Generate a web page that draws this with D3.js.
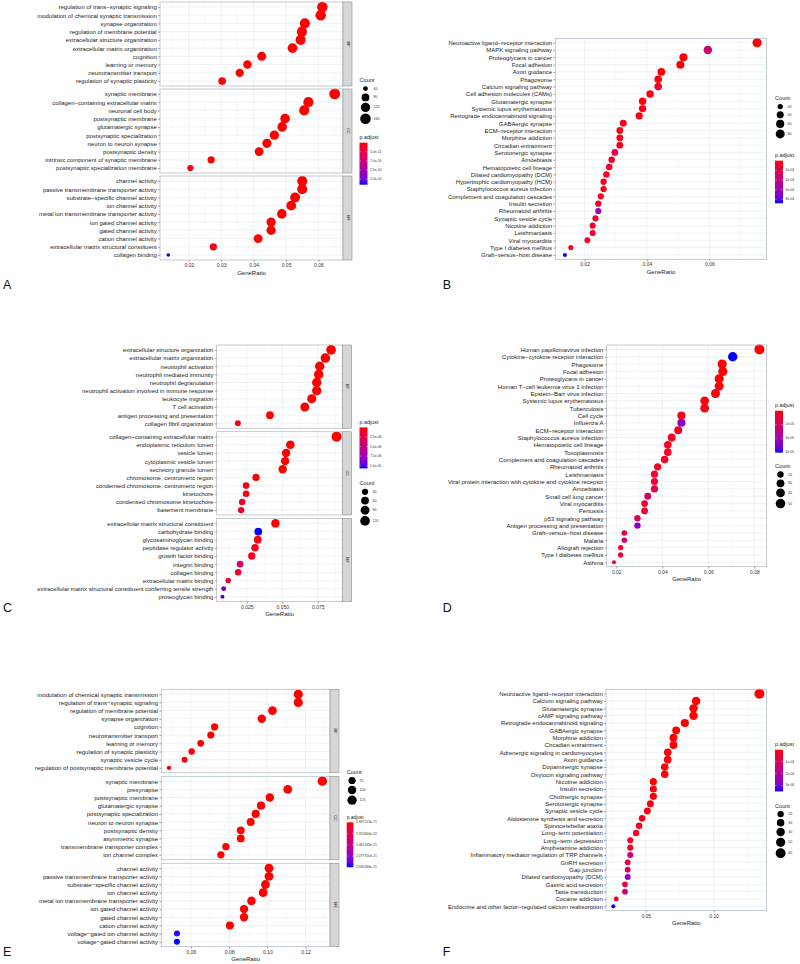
<!DOCTYPE html>
<html lang="en">
<head>
<meta charset="utf-8">
<title>Enrichment dot plots A-F</title>
<script src="https://cdn.jsdelivr.net/npm/d3@7"></script>
<style>
  body, html { margin: 0; background: #fff; }
  svg { display: block; }
</style>
</head>
<body>
<svg width="800" height="964"></svg>
<script>
// ---------- A : GO enrichment (BP / CC / MF) ----------
var aTerms = ["regulation of trans\u2212synaptic signaling","modulation of chemical synaptic transmission","synapse organization","regulation of membrane potential","extracellular structure organization","extracellular matrix organization","cognition","learning or memory","neurotransmitter transport","regulation of synaptic plasticity",
  "synaptic membrane","collagen\u2212containing extracellular matrix","neuronal cell body","postsynaptic membrane","glutamatergic synapse","postsynaptic specialization","neuron to neuron synapse","postsynaptic density","intrinsic component of synaptic membrane","postsynaptic specialization membrane",
  "channel activity","passive transmembrane transporter activity","substrate\u2212specific channel activity","ion channel activity","metal ion transmembrane transporter activity","ion gated channel activity","gated channel activity","cation channel activity","extracellular matrix structural constituent","collagen binding"];
var aFacets = ["BP","CC","MF"];
var aFacetSize = [10,10,10];
var aRatio = [0.0612,0.0607,0.0558,0.0549,0.0545,0.0520,0.0425,0.0381,0.0357,0.0303,
  0.0650,0.0569,0.0556,0.0497,0.0488,0.0464,0.0441,0.0417,0.0269,0.0205,
  0.0550,0.0550,0.0528,0.0516,0.0487,0.0454,0.0454,0.0414,0.0276,0.0137];
var aCount = [159,158,145,143,142,135,111,99,93,79, 169,148,145,129,127,121,115,108,70,53, 143,143,137,134,127,118,118,108,72,36];
var aPadj = [2.1e-28,3.4e-27,5.6e-24,1.2e-22,4.5e-22,8.7e-21,3.3e-16,6.1e-15,2.4e-14,7.9e-13,
  1.5e-32,2.2e-26,4.8e-25,6.3e-22,1.1e-21,9.5e-21,4.2e-19,2.7e-18,3.6e-13,5.9e-12,
  6.6e-25,6.6e-25,8.1e-24,2.9e-23,3.8e-21,4.4e-19,4.4e-19,6.2e-17,1.2e-11,2.3e-10];
var aTicks = [0.02,0.03,0.04,0.05,0.06];
var aCountBreaks = [40,80,120,160];
var aPadjBreaks = [5e-11,1e-10,1.5e-10,2e-10];

// ---------- B : KEGG ----------
var bTerms = ["Neuroactive ligand\u2212receptor interaction","MAPK signaling pathway","Proteoglycans in cancer","Focal adhesion","Axon guidance","Phagosome","Calcium signaling pathway","Cell adhesion molecules (CAMs)","Glutamatergic synapse","Systemic lupus erythematosus","Retrograde endocannabinoid signaling","GABAergic synapse","ECM\u2212receptor interaction","Morphine addiction","Circadian entrainment","Serotonergic synapse","Amoebiasis","Hematopoietic cell lineage","Dilated cardiomyopathy (DCM)","Hypertrophic cardiomyopathy (HCM)","Staphylococcus aureus infection","Complement and coagulation cascades","Insulin secretion","Rheumatoid arthritis","Synaptic vesicle cycle","Nicotine addiction","Leishmaniasis","Viral myocarditis","Type I diabetes mellitus","Graft\u2212versus\u2212host disease"];
var bRatio = [0.0753,0.0595,0.0517,0.0507,0.0446,0.0436,0.0436,0.0410,0.0386,0.0386,0.0375,0.0324,0.0313,0.0313,0.0313,0.0297,0.0287,0.0279,0.0270,0.0261,0.0261,0.0252,0.0244,0.0244,0.0235,0.0226,0.0226,0.0209,0.0156,0.0137];
var bCount = [85,67,58,57,50,49,49,46,44,44,42,37,35,35,35,34,32,31,30,29,29,28,28,28,27,26,26,24,18,15];
var bPadj = [2e-9,3.6e-4,1e-6,2e-6,5e-6,2e-5,9e-5,3e-5,1e-5,4e-5,3e-5,6e-5,5e-5,4e-5,5e-5,1.8e-4,8e-5,7e-5,6e-5,7e-5,6e-5,7e-5,8e-5,6.2e-4,1e-4,8e-5,9e-5,8e-5,5e-5,8.8e-4];
var bTicks = [0.02,0.04,0.06];
var bCountBreaks = [20,40,60,80];
var bPadjBreaks = [2e-4,4e-4,6e-4,8e-4];

// ---------- C : GO enrichment (BP / CC / MF) ----------
var cTerms = ["extracellular structure organization","extracellular matrix organization","neutrophil activation","neutrophil mediated immunity","neutrophil degranulation","neutrophil activation involved in immune response","leukocyte migration","T cell activation","antigen processing and presentation","collagen fibril organization",
  "collagen\u2212containing extracellular matrix","endoplasmic reticulum lumen","vesicle lumen","cytoplasmic vesicle lumen","secretory granule lumen","chromosome, centromeric region","condensed chromosome, centromeric region","kinetochore","condensed chromosome kinetochore","basement membrane",
  "extracellular matrix structural constituent","carbohydrate binding","glycosaminoglycan binding","peptidase regulator activity","growth factor binding","integrin binding","collagen binding","extracellular matrix binding","extracellular matrix structural constituent conferring tensile strength","proteoglycan binding"];
var cFacets = ["BP","CC","MF"];
var cFacetSize = [10,10,10];
var cRatio = [0.0844,0.0804,0.0764,0.0757,0.0743,0.0743,0.0708,0.0659,0.0413,0.0187,
  0.0883,0.0557,0.0527,0.0520,0.0503,0.0315,0.0245,0.0245,0.0217,0.0210,
  0.0452,0.0331,0.0327,0.0308,0.0285,0.0203,0.0189,0.0119,0.0087,0.0078];
var cCount = [122,117,111,110,108,108,103,96,60,27, 132,84,79,78,75,47,37,37,33,32, 81,60,59,55,51,37,34,21,16,14];
var cPadj = [1e-15,5e-15,2e-14,3e-14,4e-14,5e-14,1e-12,3e-11,2e-8,5e-7,
  1e-20,2e-10,1e-9,2e-9,5e-9,3e-8,4e-7,4e-7,8e-7,9e-7,
  1e-12,1.07e-5,4e-7,6e-7,8e-7,3.8e-6,1.2e-6,1.5e-6,9.6e-6,1.0e-5];
var cTicks = [0.025,0.050,0.075];
var cCountBreaks = [30,60,90,120];
var cPadjBreaks = [2.5e-6,5e-6,7.5e-6,1e-5];

// ---------- D : KEGG ----------
var dTerms = ["Human papillomavirus infection","Cytokine\u2212cytokine receptor interaction","Phagosome","Focal adhesion","Proteoglycans in cancer","Human T\u2212cell leukemia virus 1 infection","Epstein\u2212Barr virus infection","Systemic lupus erythematosus","Tuberculosis","Cell cycle","Influenza A","ECM\u2212receptor interaction","Staphylococcus aureus infection","Hematopoietic cell lineage","Toxoplasmosis","Complement and coagulation cascades","Rheumatoid arthritis","Leishmaniasis","Viral protein interaction with cytokine and cytokine receptor","Amoebiasis","Small cell lung cancer","Viral myocarditis","Pertussis","p53 signaling pathway","Antigen processing and presentation","Graft\u2212versus\u2212host disease","Malaria","Allograft rejection","Type I diabetes mellitus","Asthma"];
var dRatio = [0.0822,0.0706,0.0660,0.0663,0.0647,0.0647,0.0631,0.0584,0.0584,0.0483,0.0483,0.0469,0.0441,0.0424,0.0424,0.0410,0.0380,0.0366,0.0366,0.0366,0.0337,0.0323,0.0323,0.0292,0.0292,0.0235,0.0235,0.0219,0.0219,0.0190];
var dCount = [56,48,45,45,44,44,43,40,40,33,33,32,30,29,29,28,26,25,25,25,23,22,22,20,20,16,16,15,15,13];
var dPadj = [1e-8,6.1e-5,1e-7,2e-7,3e-7,1e-6,1e-6,1e-6,2e-6,3e-6,4.6e-5,4e-6,3e-6,4e-6,6e-6,5e-6,5e-6,7e-6,8e-6,1.4e-5,2.3e-5,8e-6,9e-6,1.8e-5,4.8e-5,1.1e-5,2.2e-5,9e-6,1e-5,8e-6];
var dTicks = [0.02,0.04,0.06,0.08];
var dCountBreaks = [20,30,40,50];
var dPadjBreaks = [2e-5,4e-5,6e-5];

// ---------- E : GO enrichment (BP / CC / MF) ----------
var eTerms = ["modulation of chemical synaptic transmission","regulation of trans\u2212synaptic signaling","regulation of membrane potential","synapse organization","cognition","neurotransmitter transport","learning or memory","regulation of synaptic plasticity","synaptic vesicle cycle","regulation of postsynaptic membrane potential",
  "synaptic membrane","presynapse","postsynaptic membrane","glutamatergic synapse","postsynaptic specialization","neuron to neuron synapse","postsynaptic density","asymmetric synapse","transmembrane transporter complex","ion channel complex",
  "channel activity","passive transmembrane transporter activity","substrate\u2212specific channel activity","ion channel activity","metal ion transmembrane transporter activity","ion gated channel activity","gated channel activity","cation channel activity","voltage\u2212gated ion channel activity","voltage\u2212gated channel activity"];
var eFacets = ["BP","CC","MF"];
var eFacetSize = [10,10,10];
var eRatio = [0.1162,0.1162,0.1027,0.0971,0.0724,0.0704,0.0651,0.0604,0.0567,0.0485,
  0.1288,0.1107,0.1013,0.0967,0.0939,0.0913,0.0861,0.0861,0.0783,0.0757,
  0.1009,0.1009,0.0990,0.0978,0.0917,0.0878,0.0878,0.0804,0.0527,0.0527];
var eCount = [120,120,106,100,75,73,67,62,58,50, 127,109,100,95,92,90,85,85,77,75, 112,112,110,108,102,97,97,89,58,58];
var ePadj = [3.2e-60,3.2e-60,1.4e-50,6.5e-46,2.2e-31,8.7e-30,4.1e-27,1.9e-24,6.0e-23,5.0e-24,
  1.687213e-71,2.3e-55,5.1e-52,7.7e-48,3.9e-46,1.2e-44,6.8e-41,6.8e-41,2.5e-35,4.0e-33,
  8.8e-52,8.8e-52,3.1e-50,1.6e-49,2.7e-45,9.9e-42,9.9e-42,1.3e-36,2.88e-21,2.930266e-21];
var eTicks = [0.06,0.08,0.10,0.12];
var eCountBreaks = [75,100,125];
var ePadjBreaks = [1.687213e-71,7.325666e-22,1.465133e-21,2.197700e-21,2.930266e-21];

// ---------- F : KEGG ----------
var fTerms = ["Neuroactive ligand\u2212receptor interaction","Calcium signaling pathway","Glutamatergic synapse","cAMP signaling pathway","Retrograde endocannabinoid signaling","GABAergic synapse","Morphine addiction","Circadian entrainment","Adrenergic signaling in cardiomyocytes","Axon guidance","Dopaminergic synapse","Oxytocin signaling pathway","Nicotine addiction","Insulin secretion","Cholinergic synapse","Serotonergic synapse","Synaptic vesicle cycle","Aldosterone synthesis and secretion","Spinocerebellar ataxia","Long\u2212term potentiation","Long\u2212term depression","Amphetamine addiction","Inflammatory mediator regulation of TRP channels","GnRH secretion","Gap junction","Dilated cardiomyopathy (DCM)","Gastric acid secretion","Taste transduction","Cocaine addiction","Endocrine and other factor\u2212regulated calcium reabsorption"];
var fRatio = [0.1337,0.0871,0.0852,0.0852,0.0788,0.0724,0.0704,0.0704,0.0662,0.0662,0.0640,0.0640,0.0556,0.0556,0.0556,0.0534,0.0512,0.0473,0.0451,0.0429,0.0386,0.0386,0.0386,0.0367,0.0367,0.0367,0.0347,0.0347,0.0283,0.0261];
var fCount = [63,41,40,40,37,34,33,33,31,31,30,30,26,26,26,25,24,22,21,20,18,18,18,17,17,17,16,16,13,12];
var fPadj = [1e-10,1e-7,1e-7,2e-7,1e-7,1e-6,1e-6,2e-6,5e-6,8e-6,5e-6,1e-5,1e-6,1e-5,1e-5,1.5e-5,1.2e-5,2e-5,2.5e-5,3e-5,3e-5,3e-5,1.5e-4,6e-5,9e-5,2.7e-4,7e-5,1.6e-4,4e-5,3.5e-4];
var fTicks = [0.05,0.10];
var fCountBreaks = [20,30,40,50,60];
var fPadjBreaks = [1e-4,2e-4,3e-4];

var FONT = "'Liberation Sans', Arial, Helvetica, sans-serif";
var svg = d3.select("svg");
var defs = svg.append("defs");

// R style scientific labels: 2e-04, 5.0e-11
function sci(d) {
  return function(v) { return v.toExponential(d).replace(/e([+-])(\d)$/, "e$10$2"); };
}

// font size that makes one label as wide as in the figure
function fitFont(label, width) {
  var t = svg.append("text").attr("font-size", 10).attr("font-family", FONT).text(label);
  var w = t.node().getComputedTextLength();
  t.remove();
  return 10 * width / w;
}

function drawPanel(p) {
  var g = svg.append("g");
  var fs = fitFont(p.terms[p.fit[0]], p.fit[1]);
  var lo = d3.min(p.ratio), hi = d3.max(p.ratio), pad = (hi - lo) * 0.05;
  var x = d3.scaleLinear().domain([lo - pad, hi + pad]).range([p.x0, p.x1]);
  var pext = d3.extent(p.padj);
  var color = d3.scaleLinear().domain(pext).range(["red", "blue"]).interpolate(d3.interpolateLab);
  var cnorm = d3.scaleLinear().domain(d3.extent(p.count)).range([0, 1]).clamp(true);
  var rad = function(c) { return p.r[0] + (p.r[1] - p.r[0]) * Math.sqrt(cnorm(c)); };

  var sizes = p.facetSize || [p.terms.length];
  var gap = p.gap || 0;
  var fh = (p.y1 - p.y0 - gap * (sizes.length - 1)) / sizes.length;
  var step = p.ticks[1] - p.ticks[0];
  var minor = [p.ticks[0] - step / 2].concat(p.ticks.map(function(t) { return t + step / 2; }))
    .filter(function(v) { return v > x.domain()[0] && v < x.domain()[1]; });

  var start = 0;
  sizes.forEach(function(sz, fi) {
    var top = p.y0 + fi * (fh + gap), bot = top + fh;
    var idx = d3.range(start, start + sz);
    start += sz;
    var y = d3.scalePoint().domain(idx).range([top, bot]).padding(0.6);
    var f = g.append("g");

    f.selectAll(".mi").data(minor).enter().append("line").attr("class", "mi")
      .attr("x1", x).attr("x2", x).attr("y1", top).attr("y2", bot)
      .attr("stroke", "#f1f3f5").attr("stroke-width", 0.4);
    f.selectAll(".ma").data(p.ticks).enter().append("line").attr("class", "ma")
      .attr("x1", x).attr("x2", x).attr("y1", top).attr("y2", bot)
      .attr("stroke", "#e4e8ec").attr("stroke-width", 0.6);
    f.selectAll(".hg").data(idx).enter().append("line").attr("class", "hg")
      .attr("x1", p.x0).attr("x2", p.x1).attr("y1", y).attr("y2", y)
      .attr("stroke", "#e4e8ec").attr("stroke-width", 0.6);

    f.selectAll("circle").data(idx).enter().append("circle")
      .attr("cx", function(i) { return x(p.ratio[i]); })
      .attr("cy", y)
      .attr("r", function(i) { return rad(p.count[i]); })
      .attr("fill", function(i) { return color(p.padj[i]); });

    f.append("rect").attr("x", p.x0).attr("y", top)
      .attr("width", p.x1 - p.x0).attr("height", fh)
      .attr("fill", "none").attr("stroke", "#a9b6c3").attr("stroke-width", 0.7);

    var ax = f.append("g").attr("transform", "translate(" + p.x0 + ",0)")
      .call(d3.axisLeft(y).tickSize(2).tickPadding(1.3)
        .tickFormat(function(i) { return p.terms[i]; }));
    ax.select(".domain").remove();
    ax.selectAll("line").attr("stroke", "#555").attr("stroke-width", 0.5);
    ax.selectAll("text").attr("font-size", fs).attr("font-family", FONT).attr("fill", "#222");

    if (p.facets) {
      f.append("rect").attr("x", p.x1).attr("y", top)
        .attr("width", p.stripW).attr("height", fh)
        .attr("fill", "#d6d6d6").attr("stroke", "#8f8f8f").attr("stroke-width", 0.6);
      f.append("text")
        .attr("transform", "translate(" + (p.x1 + p.stripW / 2) + "," + (top + fh / 2) + ") rotate(90)")
        .attr("text-anchor", "middle").attr("dominant-baseline", "central")
        .attr("font-size", 3.8).attr("font-family", FONT).attr("fill", "#1a1a1a")
        .text(p.facets[fi]);
    }
  });

  var xa = g.append("g").attr("transform", "translate(0," + p.y1 + ")")
    .call(d3.axisBottom(x).tickValues(p.ticks).tickFormat(d3.format(p.fmt)).tickSize(2).tickPadding(1.5));
  xa.select(".domain").remove();
  xa.selectAll("line").attr("stroke", "#555").attr("stroke-width", 0.5);
  xa.selectAll("text").attr("font-size", 5).attr("font-family", FONT).attr("fill", "#333");

  g.append("text").attr("x", (p.x0 + p.x1) / 2).attr("y", p.y1 + 12.7)
    .attr("text-anchor", "middle").attr("dominant-baseline", "central")
    .attr("font-size", 6).attr("font-family", FONT).attr("fill", "#222")
    .text("GeneRatio");

  // size legend
  var lg = g.append("g");
  lg.append("text").attr("x", p.lx).attr("y", p.countY).attr("dominant-baseline", "central")
    .attr("font-size", 5.6).attr("font-family", FONT).attr("fill", "#222").text("Count");
  var keyW = Math.max(p.keyMin, 2 * rad(d3.max(p.countBreaks)) + 1.4);
  var cy = p.countY + 4.3;
  var keys = p.countBreaks.map(function(b) {
    var r = rad(b), h = Math.max(p.keyMin, 2 * r + 1.4);
    var k = { v: b, r: r, y: cy + h / 2 };
    cy += h;
    return k;
  });
  lg.selectAll("circle").data(keys).enter().append("circle")
    .attr("cx", p.lx + keyW / 2).attr("cy", function(k) { return k.y; })
    .attr("r", function(k) { return k.r; }).attr("fill", "#000");
  lg.selectAll(".kl").data(keys).enter().append("text").attr("class", "kl")
    .attr("x", p.lx + keyW + 2).attr("y", function(k) { return k.y; })
    .attr("dominant-baseline", "central").attr("font-size", 3.6)
    .attr("font-family", FONT).attr("fill", "#333")
    .text(function(k) { return k.v; });

  // colour bar legend
  var cb = g.append("g");
  var barTop = p.padjY + (p.barOff || 5.7);
  var gid = "grad" + p.id;
  var grad = defs.append("linearGradient").attr("id", gid)
    .attr("x1", 0).attr("y1", 0).attr("x2", 0).attr("y2", 1);
  grad.selectAll("stop").data(d3.range(0, 1.0001, 0.1)).enter().append("stop")
    .attr("offset", function(t) { return t; })
    .attr("stop-color", function(t) { return color(pext[0] + t * (pext[1] - pext[0])); });
  cb.append("text").attr("x", p.lx).attr("y", p.padjY).attr("dominant-baseline", "central")
    .attr("font-size", p.padjTitleFs || 5.4).attr("font-family", FONT).attr("fill", "#222").text("p.adjust");
  cb.append("rect").attr("x", p.lx).attr("y", barTop)
    .attr("width", p.barW).attr("height", p.barH).attr("fill", "url(#" + gid + ")");
  var by = d3.scaleLinear().domain(pext).range([barTop, barTop + p.barH]);
  cb.selectAll(".t1").data(p.padjBreaks).enter().append("line").attr("class", "t1")
    .attr("x1", p.lx).attr("x2", p.lx + p.barW * 0.2).attr("y1", by).attr("y2", by)
    .attr("stroke", "#fff").attr("stroke-width", 0.4);
  cb.selectAll(".t2").data(p.padjBreaks).enter().append("line").attr("class", "t2")
    .attr("x1", p.lx + p.barW * 0.8).attr("x2", p.lx + p.barW).attr("y1", by).attr("y2", by)
    .attr("stroke", "#fff").attr("stroke-width", 0.4);
  cb.selectAll(".bl").data(p.padjBreaks).enter().append("text").attr("class", "bl")
    .attr("x", p.lx + p.barW + 2.5).attr("y", by)
    .attr("dominant-baseline", "central").attr("font-size", 3.4)
    .attr("font-family", FONT).attr("fill", "#333")
    .text(p.padjFmt);

  g.append("text").attr("x", p.letter[0]).attr("y", p.letter[1])
    .attr("dominant-baseline", "central").attr("font-size", 12.5)
    .attr("font-family", FONT).attr("fill", "#111").text(p.id);
}

drawPanel({ id: "A", terms: aTerms, ratio: aRatio, count: aCount, padj: aPadj,
  facets: aFacets, facetSize: aFacetSize, gap: 3, stripW: 9,
  x0: 160, x1: 343, y0: 2, y1: 260, fit: [0, 98.3], r: [1.8, 5.4],
  ticks: aTicks, fmt: ".2f", countBreaks: aCountBreaks, padjBreaks: aPadjBreaks, padjFmt: sci(1),
  lx: 359.5, countY: 80, padjY: 137, barW: 8, barH: 42, keyMin: 8.6, letter: [3, 285] });

drawPanel({ id: "B", terms: bTerms, ratio: bRatio, count: bCount, padj: bPadj,
  x0: 555.3, x1: 766.7, y0: 38.3, y1: 259.3, fit: [0, 103.7], r: [2.0, 4.6],
  ticks: bTicks, fmt: ".2f", countBreaks: bCountBreaks, padjBreaks: bPadjBreaks, padjFmt: sci(0),
  lx: 775, countY: 98.3, padjY: 155, barW: 8, barH: 42.6, keyMin: 8, letter: [442.7, 285] });

drawPanel({ id: "C", terms: cTerms, ratio: cRatio, count: cCount, padj: cPadj,
  facets: cFacets, facetSize: cFacetSize, gap: 3.5, stripW: 9.4,
  x0: 216.7, x1: 342.3, y0: 345, y1: 601.7, fit: [28, 176.7], r: [2.0, 5.0],
  ticks: cTicks, fmt: ".3f", countBreaks: cCountBreaks, padjBreaks: cPadjBreaks, padjFmt: sci(1),
  lx: 359.5, countY: 483.3, padjY: 421.7, barW: 8, barH: 41, keyMin: 8.4, letter: [3, 608] });

drawPanel({ id: "D", terms: dTerms, ratio: dRatio, count: dCount, padj: dPadj,
  x0: 606.7, x1: 766.7, y0: 345, y1: 566.7, fit: [18, 155.7], r: [2.0, 5.0],
  ticks: dTicks, fmt: ".2f", countBreaks: dCountBreaks, padjBreaks: dPadjBreaks, padjFmt: sci(0),
  lx: 775, countY: 466, padjY: 405, barW: 8, barH: 42, keyMin: 8.4, letter: [442.7, 608.3] });

drawPanel({ id: "E", terms: eTerms, ratio: eRatio, count: eCount, padj: ePadj,
  facets: eFacets, facetSize: eFacetSize, gap: 3.5, stripW: 9,
  x0: 161.3, x1: 330, y0: 689.3, y1: 946.7, fit: [9, 123.3], r: [2.2, 4.7],
  ticks: eTicks, fmt: ".2f", countBreaks: eCountBreaks, padjBreaks: ePadjBreaks, padjFmt: sci(6),
  lx: 346.7, countY: 771.7, padjY: 817.4, padjTitleFs: 4.8, barOff: 4.9, barW: 6.7, barH: 45, keyMin: 9, letter: [3, 952.3] });

drawPanel({ id: "F", terms: fTerms, ratio: fRatio, count: fCount, padj: fPadj,
  x0: 606, x1: 766.7, y0: 689.3, y1: 910.7, fit: [29, 155], r: [2.0, 5.0],
  ticks: fTicks, fmt: ".2f", countBreaks: fCountBreaks, padjBreaks: fPadjBreaks, padjFmt: sci(0),
  lx: 775, countY: 805.7, padjY: 744, barW: 8, barH: 41.7, keyMin: 8.2, letter: [442.7, 951.7] });
</script>
</body>
</html>
